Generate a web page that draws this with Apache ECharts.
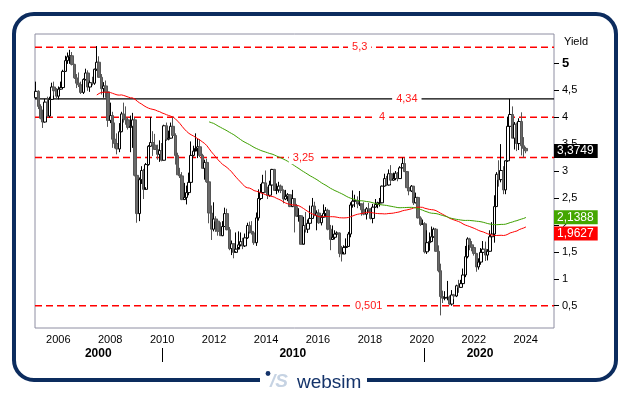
<!DOCTYPE html>
<html><head><meta charset="utf-8">
<script src="https://cdn.jsdelivr.net/npm/echarts@6/dist/echarts.min.js"></script>
<style>html,body{margin:0;padding:0;background:#fff}#c{width:628px;height:395px}</style>
</head><body><div id="c"></div>
<script>
// Monthly closes before the visible window (2003-05 .. 2005-02), used only by the moving averages
const historyCloses = [3.37,3.52,4.41,4.46,3.94,4.29,4.33,4.25,
  4.13,3.97,3.84,4.51,4.65,4.58,4.48,4.12,4.12,4.03,4.35,4.22,
  4.13,4.36];
// Visible monthly candles 2005-03 .. 2023-05
const open = [
  4.36,4.48,4.20,3.98,3.91,4.28,4.02,4.33,4.56,4.49,
  4.39,4.52,4.55,4.85,5.05,5.12,5.14,4.98,4.73,4.63,4.60,4.46,
  4.70,4.82,4.56,4.64,4.63,4.89,5.02,4.74,4.53,4.58,4.47,3.94,
  4.03,3.59,3.51,3.41,3.73,4.06,3.97,3.95,3.81,3.83,3.95,2.92,
  2.21,2.84,3.01,2.66,3.12,3.46,3.53,3.48,3.40,3.31,3.38,3.20,
  3.84,3.59,3.61,3.83,3.66,3.29,2.93,2.91,2.47,2.51,2.60,2.79,
  3.29,3.37,3.42,3.45,3.29,3.05,3.16,2.80,2.22,1.92,2.11,2.07,
  1.88,1.80,1.97,2.21,1.91,1.56,1.65,1.49,1.55,1.63,1.69,1.61,
  1.76,1.99,1.88,1.85,1.67,2.13,2.49,2.60,2.78,2.61,2.55,2.74,
  3.03,2.64,2.65,2.72,2.64,2.48,2.53,2.56,2.34,2.49,2.34,2.16,
  2.17,1.64,1.99,1.92,2.03,2.12,2.35,2.18,2.22,2.04,2.14,2.21,
  2.27,1.92,1.73,1.77,1.83,1.85,1.47,1.46,1.58,1.60,1.83,2.37,
  2.44,2.45,2.39,2.39,2.28,2.20,2.30,2.29,2.12,2.33,2.38,2.41,
  2.41,2.72,2.86,2.74,2.95,2.83,2.86,2.96,2.86,3.06,3.14,2.99,
  2.69,2.63,2.72,2.41,2.51,2.13,2.01,2.02,1.50,1.67,1.69,1.78,
  1.92,1.51,1.15,0.67,0.64,0.65,0.66,0.53,0.70,0.68,0.87,0.84,
  0.91,1.07,1.41,1.74,1.63,1.58,1.47,1.22,1.31,1.49,1.55,1.44,
  1.51,1.78,1.83,2.34,2.94,2.84,3.01,2.65,3.19,3.83,4.05,3.61,
  3.87,3.51,3.92,3.47,3.42];
const high = [
  4.66,4.50,4.24,4.14,4.34,4.38,4.38,4.64,4.66,4.54,
  4.57,4.66,4.88,5.14,5.20,5.25,5.21,4.99,4.80,4.83,4.66,4.72,
  4.90,4.87,4.68,4.75,4.90,5.32,5.13,4.80,4.65,4.68,4.44,4.27,
  4.10,3.90,3.70,3.89,4.10,4.27,4.20,4.00,4.03,4.08,3.99,3.00,
  2.88,3.09,3.04,3.15,3.48,4.00,3.74,3.69,3.49,3.57,3.52,3.86,
  3.90,3.75,3.90,4.01,3.70,3.34,3.06,2.98,2.78,2.73,2.97,3.55,
  3.47,3.70,3.60,3.59,3.32,3.21,3.23,2.81,2.36,2.42,2.16,2.10,
  2.05,2.07,2.32,2.30,1.96,1.71,1.66,1.86,1.88,1.86,1.76,1.84,
  2.04,2.06,2.07,1.87,2.23,2.66,2.76,2.93,3.01,2.71,2.82,3.04,
  3.04,2.77,2.80,2.75,2.66,2.65,2.59,2.56,2.65,2.49,2.39,2.31,
  2.18,2.15,2.24,2.10,2.36,2.50,2.43,2.27,2.29,2.18,2.38,2.33,
  2.30,2.00,1.99,1.90,1.88,1.86,1.61,1.62,1.75,1.87,2.42,2.64,
  2.56,2.53,2.63,2.40,2.42,2.33,2.41,2.31,2.39,2.48,2.43,2.50,
  2.73,2.95,2.91,3.03,3.11,2.97,3.00,2.98,3.09,3.25,3.24,3.00,
  2.79,2.74,2.72,2.60,2.52,2.16,2.10,2.05,1.90,1.86,1.97,1.95,
  1.94,1.62,1.28,0.78,0.77,0.96,0.69,0.79,0.72,0.89,0.98,0.98,
  1.19,1.61,1.77,1.76,1.70,1.62,1.48,1.38,1.57,1.70,1.69,1.55,
  1.90,2.05,2.55,2.98,3.20,3.50,3.09,3.20,4.01,4.34,4.20,3.91,
  3.90,3.98,4.09,3.63,3.45];
const low = [
  4.34,4.15,3.96,3.80,3.90,4.01,3.99,4.32,4.40,4.33,
  4.33,4.51,4.53,4.84,4.99,4.99,4.96,4.71,4.54,4.56,4.43,4.43,
  4.68,4.49,4.47,4.59,4.60,4.86,4.73,4.42,4.36,4.36,3.82,3.89,
  3.43,3.42,3.31,3.35,3.72,3.90,3.86,3.77,3.35,3.43,2.90,2.04,
  2.07,2.76,2.48,2.70,3.10,3.45,3.28,3.39,3.21,3.17,3.18,3.20,
  3.56,3.57,3.60,3.65,3.12,2.93,2.87,2.46,2.48,2.38,2.55,2.78,
  3.27,3.41,3.24,3.26,3.05,2.84,2.78,2.03,1.72,1.88,1.87,1.80,
  1.80,1.79,1.96,1.90,1.53,1.44,1.38,1.51,1.59,1.60,1.55,1.59,
  1.74,1.84,1.82,1.63,1.61,2.08,2.46,2.57,2.60,2.48,2.52,2.74,
  2.63,2.57,2.60,2.59,2.40,2.46,2.44,2.33,2.33,1.86,2.15,2.06,
  1.64,1.65,1.86,1.85,2.01,2.11,2.16,1.90,2.02,1.99,2.14,2.14,
  1.90,1.53,1.72,1.73,1.79,1.40,1.32,1.50,1.53,1.59,1.77,2.32,
  2.33,2.31,2.35,2.17,2.18,2.10,2.23,2.10,2.03,2.32,2.31,2.34,
  2.41,2.71,2.72,2.73,2.76,2.82,2.83,2.81,2.86,3.05,2.98,2.69,
  2.55,2.61,2.37,2.40,2.12,1.98,2.00,1.47,1.46,1.52,1.68,1.76,
  1.50,1.12,0.32,0.55,0.60,0.60,0.51,0.50,0.62,0.66,0.74,0.83,
  0.90,1.03,1.38,1.53,1.51,1.43,1.13,1.17,1.26,1.43,1.33,1.34,
  1.50,1.71,1.67,2.35,2.71,2.79,2.57,2.57,3.17,3.76,3.61,3.40,
  3.37,3.39,3.29,3.25,3.33];
const close = [
  4.48,4.20,3.98,3.91,4.28,4.02,4.33,4.56,4.49,4.39,
  4.52,4.55,4.85,5.05,5.12,5.14,4.98,4.73,4.63,4.60,4.46,4.70,
  4.82,4.56,4.64,4.63,4.89,5.02,4.74,4.53,4.58,4.47,3.94,4.03,
  3.59,3.51,3.41,3.73,4.06,3.97,3.95,3.81,3.83,3.95,2.92,2.21,
  2.84,3.01,2.66,3.12,3.46,3.53,3.48,3.40,3.31,3.38,3.20,3.84,
  3.59,3.61,3.83,3.66,3.29,2.93,2.91,2.47,2.51,2.60,2.79,3.29,
  3.37,3.42,3.45,3.29,3.05,3.16,2.80,2.22,1.92,2.11,2.07,1.88,
  1.80,1.97,2.21,1.91,1.56,1.65,1.49,1.55,1.63,1.69,1.61,1.76,
  1.99,1.88,1.85,1.67,2.13,2.49,2.60,2.78,2.61,2.55,2.74,3.03,
  2.64,2.65,2.72,2.64,2.48,2.53,2.56,2.34,2.49,2.34,2.16,2.17,
  1.64,1.99,1.92,2.03,2.12,2.35,2.18,2.22,2.04,2.14,2.21,2.27,
  1.92,1.73,1.77,1.83,1.85,1.47,1.46,1.58,1.60,1.83,2.37,2.44,
  2.45,2.39,2.39,2.28,2.20,2.30,2.29,2.12,2.33,2.38,2.41,2.41,
  2.72,2.86,2.74,2.95,2.83,2.86,2.96,2.86,3.06,3.14,2.99,2.69,
  2.63,2.72,2.41,2.51,2.13,2.01,2.02,1.50,1.67,1.69,1.78,1.92,
  1.51,1.15,0.67,0.64,0.65,0.66,0.53,0.70,0.68,0.87,0.84,0.91,
  1.07,1.41,1.74,1.63,1.58,1.47,1.22,1.31,1.49,1.55,1.44,1.51,
  1.78,1.83,2.34,2.94,2.84,3.01,2.65,3.19,3.83,4.05,3.61,3.87,
  3.51,3.92,3.47,3.42,3.3749];

const yearLabels = [2006,2008,2010,2012,2014,2016,2018,2020,2022,2024];
const decadeLabels = ['2000','2010','2020'];
const decadeCentres = [2007.54, 2015.03, 2022.24];
const decadeBounds = [2010.02, 2020.08];
const yTicks = [0.5,1,1.5,2,2.5,3,3.5,4,4.5,5];
const levelValues = [5.3, 4.34, 4, 3.25, 0.501];
const levelLabels = ['5,3','4,34','4','3,25','0,501'];
const levelIsSolid = [false, true, false, false, false];
const lastClose = 3.3749, lastMa100 = 2.1388, lastMa50 = 1.9627;

// Month categories 2005-03 .. 2024-05
const months = [];
for (let y = 2005, m = 3; ; m++) {
  if (m > 12) { m = 1; y++; }
  if (y > 2024 || (y === 2024 && m > 5)) break;
  months.push(y + '-' + String(m).padStart(2, '0'));
}

const allCloses = historyCloses.concat(close);
function movingAverage(n) {
  const off = historyCloses.length;
  return close.map((_, i) => {
    const g = i + off;
    if (g - n + 1 < 0) return '-';
    let s = 0;
    for (let k = g - n + 1; k <= g; k++) s += allCloses[k];
    return +(s / n).toFixed(4);
  });
}
const ma50 = movingAverage(50);
const ma100 = movingAverage(100);

const comma = v => String(v).replace('.', ',');
const FONT = 'Liberation Sans, Arial, sans-serif';
const labelMin = 2005.103, labelMax = 2025.09;
const levelLabelIdx = [144, 165, 154, 119, 148];

function badge(value, text, bg, offsetY) {
  return {
    yAxis: value,
    lineStyle: {color: 'rgba(255,255,255,0)', width: 0, opacity: 1},
    label: {
      show: true, position: 'end', distance: 0, formatter: text, opacity: 1,
      backgroundColor: bg, color: '#fff', fontFamily: FONT, fontSize: 12,
      padding: [1, 4, 1, 3], lineHeight: 12, offset: [0, offsetY || 0]
    }
  };
}
function nearestIndex(arr, v) {
  let best = 0;
  arr.forEach((a, i) => { if (Math.abs(a - v) < Math.abs(arr[best] - v)) best = i; });
  return best;
}

// Horizontal level lines spanning the full plot, drawn on the full-width value x axis
const levelSeries = levelValues.map((v, i) => ({
  name: 'level ' + levelLabels[i], type: 'line', xAxisIndex: 1, yAxisIndex: 0,
  data: [[labelMin, v], [labelMax, v]], z: 1, silent: true, symbol: 'none', showSymbol: false,
  lineStyle: levelIsSolid[i] ? {color: '#000000', width: 1.2, type: 'solid'}
                             : {color: '#ff0000', width: 1.5, type: [7, 4]},
  itemStyle: {color: levelIsSolid[i] ? '#000000' : '#ff0000'}
}));

const chart = echarts.init(document.getElementById('c'), null, {renderer: 'canvas'});
chart.setOption({
  animation: false,
  backgroundColor: '#fff',
  grid: {left: 35, top: 34, right: 74, bottom: 67, show: true, borderColor: '#8e8ea2', borderWidth: 1},
  xAxis: [
    {type: 'category', data: months, boundaryGap: true,
     axisLine: {show: false}, axisTick: {show: false}, axisLabel: {show: false}, splitLine: {show: false}},
    {type: 'value', min: labelMin, max: labelMax, position: 'bottom',
     axisLine: {show: false}, axisTick: {show: false}, splitLine: {show: false},
     axisLabel: {customValues: yearLabels, formatter: v => String(Math.round(v)), color: '#000',
                 fontFamily: FONT, fontSize: 11, margin: 6}},
    {type: 'value', min: labelMin, max: labelMax, position: 'bottom', offset: 20,
     axisLine: {show: false}, splitLine: {show: false},
     axisTick: {show: true, customValues: decadeBounds, length: 14, lineStyle: {color: '#000', width: 1}},
     axisLabel: {show: true, customValues: decadeCentres, hideOverlap: false,
                 formatter: v => decadeLabels[nearestIndex(decadeCentres, v)], color: '#000',
                 fontFamily: FONT, fontSize: 12, fontWeight: 'bold', margin: 0}}
  ],
  yAxis: [{
    type: 'value', position: 'right', min: 0.086, max: 5.544,
    name: 'Yield', nameLocation: 'end', nameGap: -8,
    nameTextStyle: {color: '#000', fontFamily: FONT, fontSize: 11, align: 'left', verticalAlign: 'middle', padding: [0, 0, 0, 10]},
    axisLine: {show: false}, splitLine: {show: false},
    axisTick: {show: true, customValues: yTicks, length: 5, lineStyle: {color: '#000'}},
    axisLabel: {customValues: yTicks, margin: 8, color: '#000', fontFamily: FONT, fontSize: 11,
      formatter: v => v === 5 ? '{b|5}' : comma(v),
      rich: {b: {fontWeight: 'bold', fontSize: 13, fontFamily: FONT, color: '#000'}}}
  }],
  series: levelSeries.concat([
    {
      name: 'Yield', type: 'candlestick', xAxisIndex: 0, yAxisIndex: 0, clip: false, z: 3,
      barWidth: 3,
      data: open.map((o, i) => [o, close[i], low[i], high[i]]),
      itemStyle: {color: '#ffffff', color0: '#6a6a6a', borderColor: '#000000', borderColor0: '#555555', borderWidth: 1}
    },
    {
      name: 'MA50', type: 'line', xAxisIndex: 0, yAxisIndex: 0, clip: false, z: 4,
      data: ma50, showSymbol: false, symbol: 'none',
      lineStyle: {color: '#ff0000', width: 1}, itemStyle: {color: '#ff0000'}
    },
    {
      name: 'MA100', type: 'line', xAxisIndex: 0, yAxisIndex: 0, clip: false, z: 4,
      data: ma100, showSymbol: false, symbol: 'none',
      lineStyle: {color: '#3ea000', width: 1}, itemStyle: {color: '#3ea000'}
    },
    {
      name: 'marks', type: 'line', xAxisIndex: 0, yAxisIndex: 0, data: [], z: 6, silent: true, clip: false,
      itemStyle: {color: '#ff0000'},
      markLine: {
        silent: true, symbol: ['none', 'none'], animation: false,
        data: [badge(lastClose, comma(lastClose), '#000000', 0),
               badge(lastMa100, comma(lastMa100), '#44a600', 0),
               badge(lastMa50, comma(lastMa50), '#ff0000', 6.5)]
      },
      markPoint: {
        silent: true, animation: false, symbol: 'circle', symbolSize: 1,
        itemStyle: {color: 'rgba(0,0,0,0)'},
        data: levelValues.map((v, i) => ({
          coord: [levelLabelIdx[i], v],
          label: {show: true, position: 'inside', formatter: levelLabels[i], color: '#ff1a1a',
                  fontFamily: FONT, fontSize: 11, backgroundColor: '#fff', padding: [1, 4]}
        }))
      }
    }
  ]),
  graphic: [
    {type: 'rect', silent: true, z: 100, shape: {x: 14, y: 14, width: 602, height: 366, r: 20},
     style: {fill: 'none', stroke: '#0c2c5e', lineWidth: 4}},
    {type: 'rect', silent: true, z: 101, shape: {x: 260, y: 374, width: 107, height: 12}, style: {fill: '#fff'}},
    {type: 'circle', silent: true, z: 102, shape: {cx: 268, cy: 373.5, r: 2.4}, style: {fill: '#14336a'}},
    {type: 'text', silent: true, z: 102, style: {text: '/S', x: 270, y: 391, fill: '#c6d3e3',
      font: 'italic bold 19px Liberation Sans', verticalAlign: 'bottom', align: 'left'}},
    {type: 'text', silent: true, z: 102, style: {text: 'websim', x: 297, y: 392, fill: '#14336a',
      font: '19px Liberation Sans', verticalAlign: 'bottom', align: 'left'}}
  ]
});
</script></body></html>
